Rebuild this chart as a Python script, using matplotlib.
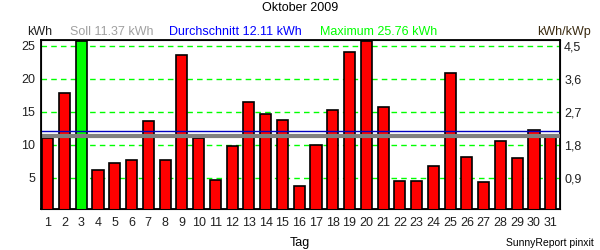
import numpy as np
import matplotlib.pyplot as plt

plt.rcParams['font.family'] = ['Liberation Sans', 'DejaVu Sans']

days = np.arange(1, 32)
kwh = [11.06, 17.9, 25.76, 6.2, 7.27, 7.7, 13.6, 7.7, 23.6, 11.06,
       4.7, 9.9, 16.5, 14.7, 13.7, 3.83, 10.0, 15.3, 24.1, 25.7,
       15.76, 4.6, 4.6, 6.86, 20.9, 8.18, 4.39, 10.65, 8.08, 12.3, 11.36]
soll = 11.37
mittel = 12.11
maximum = 25.76
kwp = 25 / 4.5
right_ticks = [0.9, 1.8, 2.7, 3.6, 4.5]

fig = plt.figure(figsize=(6, 2.5), dpi=100)
ax = fig.add_axes([0.0683, 0.164, 0.865, 0.676])

imax = int(np.argmax(kwh))
colors = ['#00ff00' if i == imax else '#ff0000' for i in range(len(kwh))]
ax.bar(days, kwh, width=0.66, color=colors, edgecolor='black', linewidth=1.2, zorder=3)

for y in [5, 10, 15, 20, 25]:
    ax.axhline(y, color='#00ff00', linestyle=(0, (4, 3)), linewidth=1, zorder=1)
ax.axhline(soll, color='#808080', linewidth=3, zorder=4)
ax.axhline(mittel, color='#0000c0', linewidth=1, zorder=4)

ax.set_xlim(0.6, 31.55)
ax.set_ylim(0.3, 25.85)
ax.set_xticks(days)
ax.set_yticks([5, 10, 15, 20, 25])
ax.tick_params(length=0, labelsize=9, colors='#202020', pad=6)
ax.tick_params(axis='y', pad=4)
for s in ax.spines.values():
    s.set_linewidth(1.3)

ax2 = ax.twinx()
ax2.set_ylim(0.3 / kwp, 25.85 / kwp)
ax2.set_yticks(right_ticks)
ax2.set_yticklabels([f'{t:.1f}'.replace('.', ',') for t in right_ticks])
ax2.tick_params(length=0, labelsize=9, colors='#202020', pad=3)

fig.text(0.5, 0.968, 'Oktober 2009', ha='center', va='center', fontsize=9)
fig.text(0.045, 0.872, 'kWh', ha='left', va='center', fontsize=9, color='#202020')
fig.text(0.117, 0.872, 'Soll 11.37 kWh', ha='left', va='center', fontsize=9, color='#a0a0a0')
fig.text(0.282, 0.872, 'Durchschnitt 12.11 kWh', ha='left', va='center', fontsize=9, color='#0000ff')
fig.text(0.533, 0.872, 'Maximum 25.76 kWh', ha='left', va='center', fontsize=9, color='#00ff00')
fig.text(0.985, 0.872, 'kWh/kWp', ha='right', va='center', fontsize=9, color='#3a2a10')
fig.text(0.5, 0.028, 'Tag', ha='center', va='center', fontsize=9)
fig.text(0.99, 0.028, 'SunnyReport pinxit', ha='right', va='center', fontsize=7.5)

fig.savefig('out.png', dpi=100)
